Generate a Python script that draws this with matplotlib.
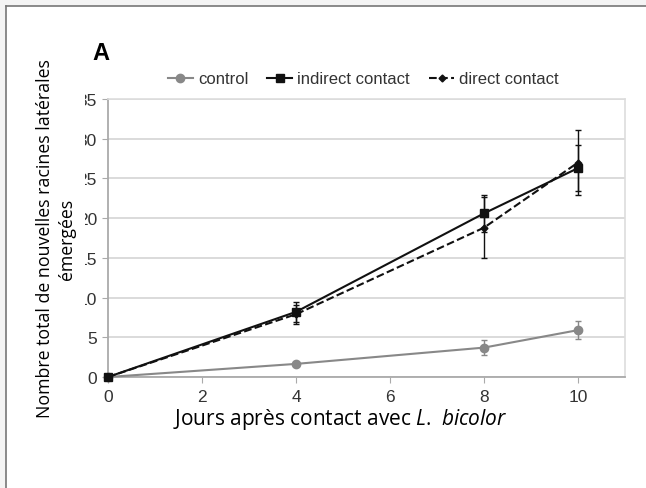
import matplotlib
matplotlib.use("Agg")
import matplotlib.pyplot as plt
from matplotlib.patches import Rectangle

# data
days = [0, 4, 8, 10]
control = [0, 1.65, 3.7, 5.9]
control_err = [0, 0.3, 0.9, 1.1]
indirect = [0, 8.2, 20.6, 26.3]
indirect_err = [0, 1.3, 2.3, 2.9]
direct = [0, 7.9, 18.8, 27.0]
direct_err = [0, 1.2, 3.8, 4.1]

xticks = [0, 2, 4, 6, 8, 10]
yticks = [0, 5, 10, 15, 20, 25, 30, 35]

plt.rcParams['font.family'] = ['Liberation Sans', 'DejaVu Sans']
plt.rcParams['mathtext.fontset'] = 'custom'
plt.rcParams['mathtext.rm'] = 'Open Sans'
plt.rcParams['mathtext.it'] = 'Open Sans:italic'

W, H = 646, 489
fig = plt.figure(figsize=(W / 100, H / 100), dpi=100)
fig.patch.set_facecolor('#f4f4f4')

# white panel with grey top/left border
fig.patches.append(Rectangle((6 / W, 0), 1, 1 - 7 / H, transform=fig.transFigure,
                             facecolor='white', edgecolor='none', zorder=-2))
fig.add_artist(plt.Line2D([6 / W, 1], [1 - 7 / H, 1 - 7 / H], color='#777777', lw=1.2))
fig.add_artist(plt.Line2D([6 / W, 6 / W], [0, 1 - 7 / H], color='#777777', lw=1.2))

ax = fig.add_axes([108 / W, 1 - 378 / H, (625 - 108) / W, (378 - 100) / H])
ax.set_xlim(0, 11)
ax.set_ylim(0, 35)
ax.set_xticks(xticks)
ax.set_yticks(yticks)
ax.grid(axis='y', color='#d8d8d8', lw=1.3)
ax.set_axisbelow(True)
for s in ['top', 'right']:
    ax.spines[s].set_color('#dddddd')
    ax.spines[s].set_linewidth(1.2)
for s in ['left', 'bottom']:
    ax.spines[s].set_color('#aaaaaa')
    ax.spines[s].set_linewidth(1.3)
ax.tick_params(axis='both', colors='#aaaaaa', labelcolor='#333333', labelsize=12.5, length=4)
ax.tick_params(axis='y', pad=4)
ax.tick_params(axis='x', pad=5)

ax.errorbar(days, control, yerr=control_err, color='#888888', lw=1.5, marker='o', ms=6,
            capsize=2.5, elinewidth=1, label='control', clip_on=False, zorder=3)
ax.errorbar(days, indirect, yerr=indirect_err, color='#111111', lw=1.5, marker='s', ms=6,
            capsize=2.5, elinewidth=1, label='indirect contact', clip_on=False, zorder=4)
ax.errorbar(days, direct, yerr=direct_err, color='#111111', lw=1.5, ls='--', marker='D', ms=3.5,
            capsize=2.5, elinewidth=1, label='direct contact', clip_on=False, zorder=5)

handles, labels = ax.get_legend_handles_labels()
handles = [h[0] for h in handles]
leg = ax.legend(handles, labels, loc='center', bbox_to_anchor=(0.494, 1 + 20 / 278), ncol=3,
                frameon=False, fontsize=12, handlelength=1.5, handletextpad=0.3,
                columnspacing=1.15, labelcolor='#333333', borderpad=0)

# white block that hides the first digits of the y tick labels
fig.patches.append(Rectangle((76 / W, 1 - 306 / H), 9 / W, 212 / H, transform=fig.transFigure,
                             facecolor='white', edgecolor='none', zorder=5))

fig.text(56 / W, 1 - 239 / H, "Nombre total de nouvelles racines latérales\némergées",
         rotation=90, ha='center', va='center', multialignment='center', fontsize=12.8,
         family='Open Sans', linespacing=1.3, zorder=6)
fig.text(92 / W, 1 - 54 / H, "A", fontsize=17, fontweight='bold', ha='left', va='center')
fig.text(340 / W, 1 - 420 / H, r"Jours après contact avec $\mathit{L.\ bicolor}$",
         fontsize=15, family='Open Sans', ha='center', va='center')

fig.savefig('out.png', dpi=100, facecolor=fig.get_facecolor())
